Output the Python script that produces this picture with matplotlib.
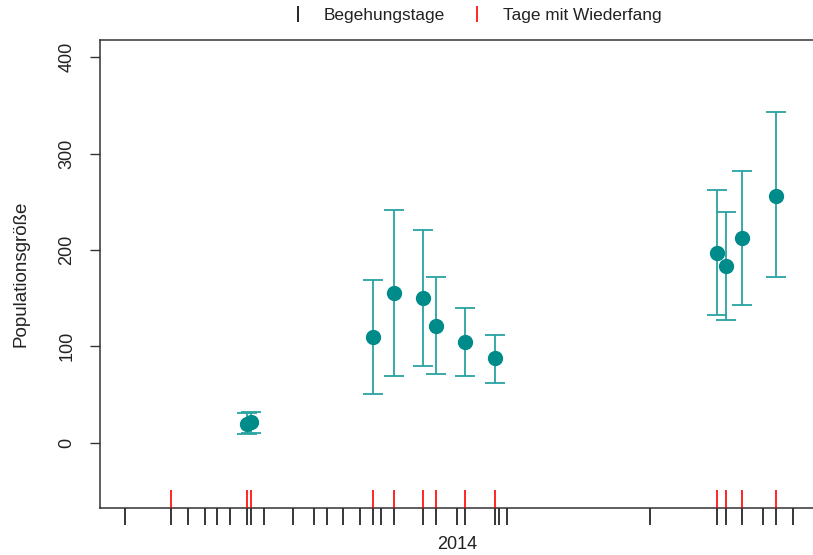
import matplotlib
matplotlib.use('Agg')
import matplotlib.pyplot as plt
from matplotlib.lines import Line2D

plt.rcParams['font.family'] = ['Liberation Sans', 'DejaVu Sans']

# Tage seit Beginn der Saison
begehungstage = [0, 11, 15, 19, 22, 25, 29, 30, 33, 40, 45, 48, 52, 56, 59, 61,
                 64, 71, 74, 79, 81, 88, 89, 91, 125, 141, 143, 147, 152, 155, 159]
wiederfang = [11, 29, 30, 59, 64, 71, 74, 81, 88, 141, 143, 147, 155]

# Schaetzungen der Populationsgroesse mit Konfidenzintervall
schaetz_tage = [29, 30, 59, 64, 71, 74, 81, 88, 141, 143, 147, 155]
pop = [19, 21, 110, 155, 150, 121, 104, 88, 197, 183, 212, 256]
unten = [9, 10, 50, 69, 79, 71, 69, 62, 132, 127, 143, 172]
oben = [31, 32, 169, 241, 221, 172, 140, 112, 262, 239, 282, 343]

punkt_farbe = '#008b8b'
balken_farbe = '#2aa3a3'
txt = '#222222'

fig = plt.figure(figsize=(8.13, 5.55), dpi=100)
ax = fig.add_axes([0.1228, 0.0847, 0.8886, 0.8432])

err = [[p - u for p, u in zip(pop, unten)], [o - p for p, o in zip(pop, oben)]]
ax.errorbar(schaetz_tage, pop, yerr=err, fmt='none', ecolor=balken_farbe,
            elinewidth=1.3, capsize=7, capthick=1.3, zorder=2)
ax.plot(schaetz_tage, pop, 'o', color=punkt_farbe, markersize=10, zorder=3)

# rote Striche an Tagen mit Wiederfang
ax.vlines(wiederfang, 0, 0.0385, transform=ax.get_xaxis_transform(),
          colors='red', linewidth=1.2, zorder=4)

ax.set_xlim(-6, 166)
ax.set_ylim(-68, 418)

ax.set_xticks(begehungstage)
ax.set_xticklabels([])
ax.tick_params(axis='x', length=12.5, width=1.1, color='black', direction='out')
ax.set_yticks([0, 100, 200, 300, 400])
ax.set_yticklabels(['0', '100', '200', '300', '400'], rotation=90, va='center',
                   fontsize=13, color=txt)
ax.tick_params(axis='y', length=7.5, width=1.0, color='#333333', pad=10)

for s in ax.spines.values():
    s.set_color('#333333')
    s.set_linewidth(1.1)

ax.set_xlabel('2014', fontsize=13, color=txt, labelpad=4, x=0.494)
ax.set_ylabel('Populationsgröße', fontsize=13.5, color=txt, labelpad=21)

handles = [Line2D([], [], color='black', marker='|', linestyle='none',
                  markersize=11, markeredgewidth=1.2),
           Line2D([], [], color='red', marker='|', linestyle='none',
                  markersize=11, markeredgewidth=1.2)]
fig.legend(handles, ['Begehungstage', 'Tage mit Wiederfang'], ncol=2,
           loc='center', bbox_to_anchor=(0.5836, 0.972), frameon=False,
           fontsize=12.4, labelcolor=txt, handlelength=1.2, handletextpad=0.9,
           columnspacing=1.25)

fig.savefig('out.png', dpi=100)
